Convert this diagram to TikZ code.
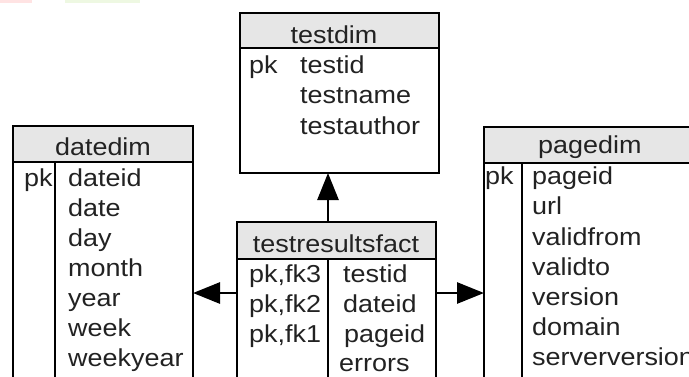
\documentclass[tikz,border=0pt]{standalone}
\usepackage{fontspec}
\setmainfont[FakeStretch=1.1]{Liberation Sans}
\usetikzlibrary{arrows.meta}
\definecolor{hdrgray}{HTML}{E6E6E6}
\definecolor{txt}{HTML}{222222}
\definecolor{blobpink}{HTML}{FFE3E3}
\definecolor{blobgreen}{HTML}{EEF8E2}
\tikzset{
  box/.style={draw=black, line width=2.8pt, rectangle, inner sep=0pt, outer sep=0pt},
  rulel/.style={line width=2.8pt},
  hdr/.style={fill=hdrgray},
  lbl/.style={anchor=base west, inner sep=0pt, text=txt, font=\fontsize{24.5}{29}\selectfont},
  ttl/.style={anchor=base, inner sep=0pt, text=txt, font=\fontsize{24.5}{29}\selectfont},
  arr/.style={line width=2.8pt, -{Triangle[length=27pt,width=21pt]}},
}
\begin{document}
\begin{tikzpicture}[x=1pt,y=-1pt]
\useasboundingbox (0,0) rectangle (689,376);
\clip (0,0) rectangle (689,376);
\fill[white] (0,0) rectangle (689,376);
% faint blobs at top
\fill[blobpink] (0,0) rectangle (32,3);
\fill[blobgreen] (65,0) rectangle (140,3);

% ---------- testdim ----------
\fill[hdr] (240,13) rectangle (439,48);
\draw[rulel] (240,48) -- (439,48);
\node[box, minimum width=199pt, minimum height=160pt] (testdim) at (339.5,93) {};
\node[ttl] (tdt) at (334,43) {testdim};
\node[lbl] (tdpk) at (249,73) {pk};
\node[lbl] (td1) at (300,73) {testid};
\node[lbl] (td2) at (300,103.5) {testname};
\node[lbl] (td3) at (300,134) {testauthor};

% ---------- datedim ----------
\fill[hdr] (13,126) rectangle (193,162);
\draw[rulel] (13,162) -- (193,162);
\draw[rulel] (55,162) -- (55,430);
\node[box, minimum width=180pt, minimum height=304pt] (datedim) at (103,278) {};
\node[ttl] (ddt) at (103,155) {datedim};
\node[lbl] (ddpk) at (24,186) {pk};
\node[lbl] (dd1) at (68,186) {dateid};
\node[lbl] (dd2) at (68,216) {date};
\node[lbl] (dd3) at (68,246) {day};
\node[lbl] (dd4) at (68,276) {month};
\node[lbl] (dd5) at (68,306) {year};
\node[lbl] (dd6) at (68,336) {week};
\node[lbl] (dd7) at (68,366) {weekyear};

% ---------- testresultsfact ----------
\fill[hdr] (237,222) rectangle (436,259);
\draw[rulel] (237,259) -- (436,259);
\draw[rulel] (328,259) -- (328,430);
\node[box, minimum width=199pt, minimum height=208pt] (fact) at (336.5,326) {};
\node[ttl] (ft) at (336,252) {testresultsfact};
\node[lbl] (fk3) at (249,282) {pk,fk3};
\node[lbl] (fk2) at (249,312) {pk,fk2};
\node[lbl] (fk1) at (249,342) {pk,fk1};
\node[lbl] (f1) at (343,282) {testid};
\node[lbl] (f2) at (343,312) {dateid};
\node[lbl] (f3) at (344,342) {pageid};
\node[lbl] (f4) at (339,371) {errors};

% ---------- pagedim ----------
\fill[hdr] (484,127) rectangle (700,163);
\draw[rulel] (484,163) -- (700,163);
\draw[rulel] (522,163) -- (522,430);
\node[box, minimum width=216pt, minimum height=303pt] (pagedim) at (592,278.5) {};
\node[lbl] (pdt) at (538,153) {pagedim};
\node[lbl] (pdpk) at (485,184) {pk};
\node[lbl] (pd1) at (532,184) {pageid};
\node[lbl] (pd2) at (532,214) {url};
\node[lbl] (pd3) at (532,245) {validfrom};
\node[lbl] (pd4) at (532,275) {validto};
\node[lbl] (pd5) at (532,305) {version};
\node[lbl] (pd6) at (532,335) {domain};
\node[lbl] (pd7) at (532,365) {serverversion};

% ---------- connectors ----------
\coordinate (ax) at (328,0);
\coordinate (ay) at (0,293);
\draw[arr] (fact.north -| ax) -- (testdim.south -| ax);
\draw[arr] (fact.west |- ay) -- (datedim.east |- ay);
\draw[arr] (fact.east |- ay) -- (pagedim.west |- ay);
\end{tikzpicture}
\end{document}
